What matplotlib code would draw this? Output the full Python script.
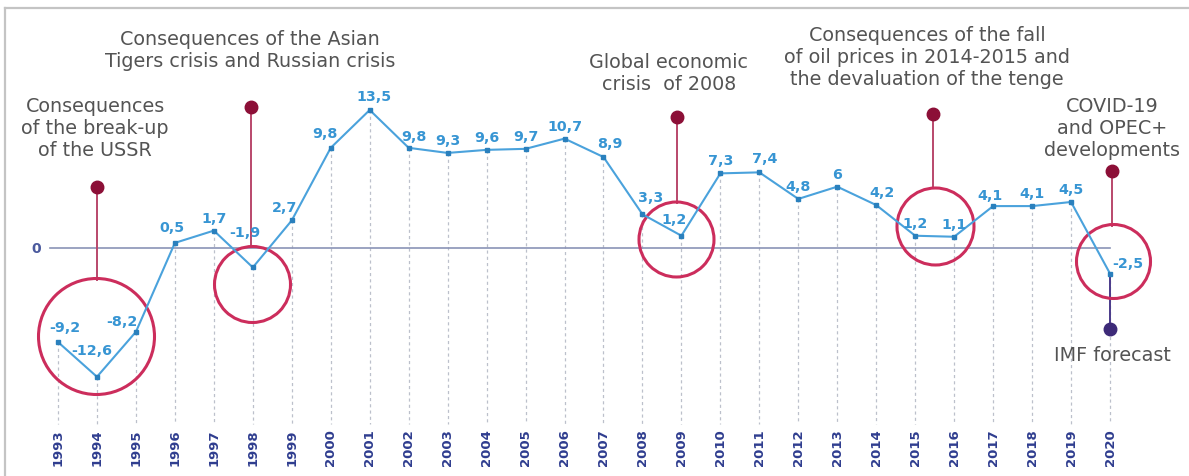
import matplotlib
matplotlib.use("Agg")
import matplotlib.pyplot as plt

# GDP growth, %
years = list(range(1993, 2021))
growth = [-9.2, -12.6, -8.2, 0.5, 1.7, -1.9, 2.7, 9.8, 13.5, 9.8, 9.3, 9.6, 9.7, 10.7,
          8.9, 3.3, 1.2, 7.3, 7.4, 4.8, 6.0, 4.2, 1.2, 1.1, 4.1, 4.1, 4.5, -2.5]
labels = ["-9,2", "-12,6", "-8,2", "0,5", "1,7", "-1,9", "2,7", "9,8", "13,5", "9,8",
          "9,3", "9,6", "9,7", "10,7", "8,9", "3,3", "1,2", "7,3", "7,4", "4,8", "6",
          "4,2", "1,2", "1,1", "4,1", "4,1", "4,5", "-2,5"]

# label offsets in pixels (dx, dy up), default (0, 13)
label_offsets = {1993: (7, 15), 1994: (-5, 27), 1995: (-14, 11), 1996: (-3, 16),
                 1998: (-8, 35), 1999: (-7, 13), 2000: (-6, 15), 2001: (4, 14),
                 2002: (5, 12), 2007: (6, 14), 2008: (8, 17), 2009: (-7, 17),
                 2011: (5, 14), 2014: (6, 13), 2017: (-3, 11), 2020: (18, 11)}

# events: text, text position, circle centre, circle diameter (px), stem x, stem y range
events = [
    ("Consequences\nof the break-up\nof the USSR", (1993.95, 11.8), (1993.97, -8.6), 116, 1994, (-3.1, 6.0)),
    ("Consequences of the Asian\nTigers crisis and Russian crisis", (1997.93, 19.4), (1997.98, -3.5), 76, 1997.95, (0.1, 13.8)),
    ("Global economic\ncrisis  of 2008", (2008.68, 17.2), (2008.87, 0.85), 75, 2008.89, (4.4, 12.8)),
    ("Consequences of the fall\nof oil prices in 2014-2015 and\nthe devaluation of the tenge", (2015.30, 18.7), (2015.51, 2.2), 77, 2015.46, (6.0, 13.1)),
    ("COVID-19\nand OPEC+\ndevelopments", (2020.05, 11.8), (2020.08, -1.3), 74, 2020.05, (2.15, 7.5)),
]

line_c = "#4aa2dc"
marker_c = "#2a80bd"
label_c = "#3795d3"
year_c = "#2f3d8f"
red_c = "#cc2d5c"
stem_c = "#b9476b"
dot_c = "#8c0f37"
text_c = "#545454"

fig = plt.figure(figsize=(11.89, 4.77), dpi=100)
ax = fig.add_axes([0, 0, 1, 1])
ax.set_xlim(1993 - 58 / 38.963, 1993 + (1189 - 58) / 38.963)
ax.set_ylim(-(477 - 249) / 10.222, 249 / 10.222)
ax.axis("off")

# frame
fig.add_artist(plt.Line2D([5 / 1189, 1], [1 - 9 / 477, 1 - 9 / 477], color="#c4c4c4", lw=1.6))
fig.add_artist(plt.Line2D([5 / 1189, 5 / 1189], [0, 1 - 9 / 477], color="#c4c4c4", lw=1.6))

# dashed guides down to year labels
for y, v in zip(years, growth):
    ax.plot([y, y], [v, -17.2], color="#bcc0cb", lw=0.9, ls=(0, (2.5, 2.5)), zorder=1)
    ax.text(y, -19.4, str(y), rotation=90, ha="center", va="center",
            fontsize=9.5, fontweight="bold", color=year_c)

# zero line
ax.plot([1992.8, 2020], [0, 0], color="#8a93b6", lw=1.2, zorder=2)
ax.text(1992.45, 0, "0", ha="center", va="center", fontsize=10, fontweight="bold", color="#4b5a9e")

# events
for text, tpos, cpos, diam, sx, (sy0, sy1) in events:
    ax.plot([sx, sx], [sy0, sy1], color=stem_c, lw=1.4, zorder=3)
    ax.plot(sx, sy1, "o", ms=9, color=dot_c, zorder=4)
    ax.plot(*cpos, "o", ms=diam * 0.72, mfc="none", mec=red_c, mew=2.2, zorder=5)
    ax.text(*tpos, text, ha="center", va="center", fontsize=13.8, color=text_c,
            linespacing=1.2)

# IMF forecast
ax.plot([2020, 2020], [growth[-1], -7.9], color="#4a3a8a", lw=1.4, zorder=3)
ax.plot(2020, -7.9, "o", ms=9, color="#3d2a78", zorder=4)
ax.text(2020.05, -10.4, "IMF forecast", ha="center", va="center", fontsize=13.8, color=text_c)

# main series
ax.plot(years, growth, color=line_c, lw=1.5, zorder=6)
ax.plot(years, growth, "s", ms=3.5, color=marker_c, zorder=7)

for y, v, lab in zip(years, growth, labels):
    dx, dy = label_offsets.get(y, (0, 13))
    ax.annotate(lab, (y, v), xytext=(dx * 0.72, dy * 0.72), textcoords="offset points",
                ha="center", va="center", fontsize=10.3, fontweight="bold", color=label_c, zorder=8)

fig.savefig("out.png", dpi=100)
